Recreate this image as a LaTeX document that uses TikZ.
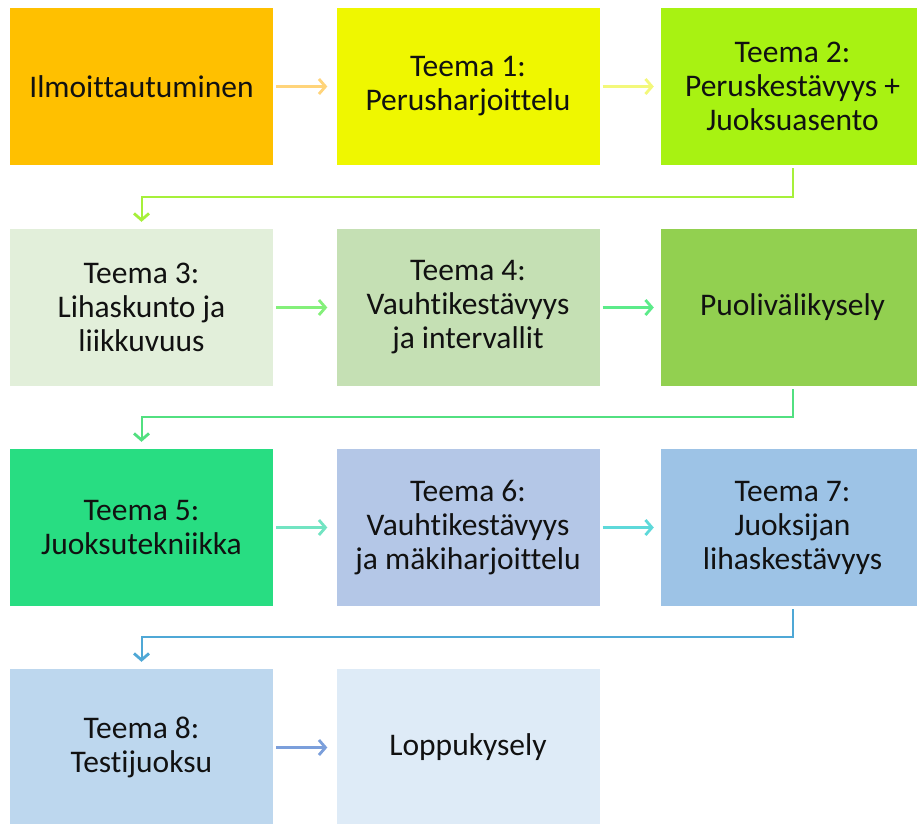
\documentclass[tikz,border=0pt]{standalone}
\usepackage{fontspec}
\setmainfont{Carlito}[Ligatures={NoCommon,NoContextual}]
\usetikzlibrary{arrows.meta}
\definecolor{cA}{HTML}{FFC000}
\definecolor{cB}{HTML}{EFF700}
\definecolor{cC}{HTML}{A8F212}
\definecolor{cD}{HTML}{E2EFDA}
\definecolor{cE}{HTML}{C5E0B4}
\definecolor{cF}{HTML}{92D050}
\definecolor{cG}{HTML}{28DD82}
\definecolor{cH}{HTML}{B4C7E7}
\definecolor{cI}{HTML}{9DC3E6}
\definecolor{cJ}{HTML}{BDD7EE}
\definecolor{cK}{HTML}{DEEBF7}
\definecolor{aA}{HTML}{FFD47A}
\definecolor{aB}{HTML}{F3F87A}
\definecolor{aC}{HTML}{A6F03A}
\definecolor{aD}{HTML}{84F07A}
\definecolor{aE}{HTML}{5CEB8A}
\definecolor{aF}{HTML}{52E080}
\definecolor{aG}{HTML}{72E4C2}
\definecolor{aH}{HTML}{5ED9DA}
\definecolor{aI}{HTML}{4FA8D6}
\definecolor{aJ}{HTML}{7B9FDB}
\definecolor{txt}{HTML}{111111}
\tikzset{
  box/.style={minimum width=263pt, minimum height=157pt, inner sep=0pt, align=center,
    text=txt, font=\fontsize{31.5}{34}\selectfont},
  conn/.style={line width=2.6pt, -{Straight Barb[length=6.5pt,width=15pt,line width=2.8pt]}},
}
\begin{document}
\begin{tikzpicture}[x=1pt,y=-1pt]
\clip (0,0) rectangle (917,823);
\fill[white] (0,0) rectangle (917,823);
\node[box, fill=cA] (b1) at (141.5,86.5) {Ilmoittautuminen};
\node[box, fill=cB] (b2) at (468,86.5) {Teema 1:\\Perusharjoittelu};
\node[box, fill=cC] (b3) at (792.5,86.5) {Teema 2:\\Peruskestävyys +\\Juoksuasento};
\node[box, fill=cD] (b4) at (141.5,307.5) {Teema 3:\\Lihaskunto ja\\liikkuvuus};
\node[box, fill=cE] (b5) at (468,307.5) {Teema 4:\\Vauhtikestävyys\\ja intervallit};
\node[box, fill=cF] (b6) at (792.5,307.5) {Puolivälikysely};
\node[box, fill=cG] (b7) at (141.5,527.5) {Teema 5:\\Juoksutekniikka};
\node[box, fill=cH] (b8) at (468,527.5) {Teema 6:\\Vauhtikestävyys\\ja mäkiharjoittelu};
\node[box, fill=cI] (b9) at (792.5,527.5) {Teema 7:\\Juoksijan\\lihaskestävyys};
\node[box, fill=cJ] (b10) at (141.5,747.5) {Teema 8:\\Testijuoksu};
\node[box, fill=cK] (b11) at (468,747.5) {Loppukysely};
\coordinate (k1a) at (792.5,197);
\coordinate (k1b) at (141.5,197);
\coordinate (k2a) at (792.5,417);
\coordinate (k2b) at (141.5,417);
\coordinate (k3a) at (792.5,637);
\coordinate (k3b) at (141.5,637);
\draw[conn, aA, shorten <=3pt, shorten >=9pt] (b1) -- (b2);
\draw[conn, aB, shorten <=3pt, shorten >=7pt] (b2) -- (b3);
\draw[conn, aD, shorten <=3pt, shorten >=9pt] (b4) -- (b5);
\draw[conn, aE, shorten <=3pt, shorten >=7pt] (b5) -- (b6);
\draw[conn, aG, shorten <=3pt, shorten >=9pt] (b7) -- (b8);
\draw[conn, aH, shorten <=3pt, shorten >=7pt] (b8) -- (b9);
\draw[conn, aJ, shorten <=3pt, shorten >=9pt] (b10) -- (b11);
\draw[conn, aC, line width=2pt, shorten <=3pt, shorten >=7pt] (b3.south) -- (k1a) -- (k1b) -- (b4.north);
\draw[conn, aF, line width=2pt, shorten <=3pt, shorten >=7pt] (b6.south) -- (k2a) -- (k2b) -- (b7.north);
\draw[conn, aI, line width=2pt, shorten <=3pt, shorten >=7pt] (b9.south) -- (k3a) -- (k3b) -- (b10.north);
\end{tikzpicture}
\end{document}
